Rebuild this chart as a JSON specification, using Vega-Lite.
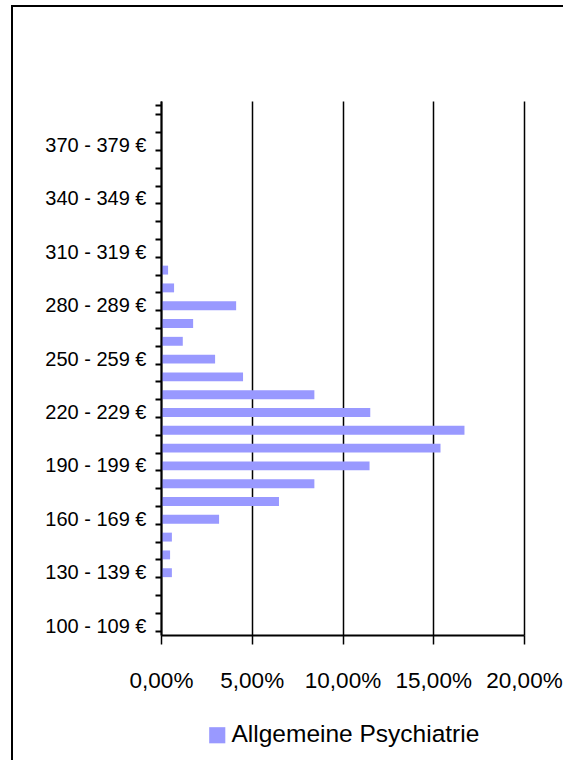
{
  "$schema": "https://vega.github.io/schema/vega-lite/v6.json",
  "width": 551,
  "height": 754,
  "autosize": {"type": "none"},
  "padding": {"left": 12, "top": 6, "right": 0, "bottom": 0},
  "background": "white",
  "config": {
    "view": {"stroke": "black", "strokeWidth": 2, "strokeDash": [551, 1305, 754]},
    "font": "Liberation Sans",
    "axis": {"labelFont": "Liberation Sans", "labelColor": "black"},
    "legend": {"labelFont": "Liberation Sans", "labelColor": "black"}
  },
  "data": {
    "values": [
      {"range": "100 - 109 €", "share": 0},
      {"range": "110 - 119 €", "share": 0},
      {"range": "120 - 129 €", "share": 0},
      {"range": "130 - 139 €", "share": 0.6},
      {"range": "140 - 149 €", "share": 0.5},
      {"range": "150 - 159 €", "share": 0.6},
      {"range": "160 - 169 €", "share": 3.2},
      {"range": "170 - 179 €", "share": 6.5},
      {"range": "180 - 189 €", "share": 8.45},
      {"range": "190 - 199 €", "share": 11.49},
      {"range": "200 - 209 €", "share": 15.4},
      {"range": "210 - 219 €", "share": 16.72},
      {"range": "220 - 229 €", "share": 11.53},
      {"range": "230 - 239 €", "share": 8.45},
      {"range": "240 - 249 €", "share": 4.52},
      {"range": "250 - 259 €", "share": 2.98},
      {"range": "260 - 269 €", "share": 1.2},
      {"range": "270 - 279 €", "share": 1.77},
      {"range": "280 - 289 €", "share": 4.14},
      {"range": "290 - 299 €", "share": 0.72},
      {"range": "300 - 309 €", "share": 0.39},
      {"range": "310 - 319 €", "share": 0},
      {"range": "320 - 329 €", "share": 0},
      {"range": "330 - 339 €", "share": 0},
      {"range": "340 - 349 €", "share": 0},
      {"range": "350 - 359 €", "share": 0},
      {"range": "360 - 369 €", "share": 0},
      {"range": "370 - 379 €", "share": 0},
      {"range": "380 - 389 €", "share": 0},
      {"range": "390 - 399 €", "share": 0}
    ]
  },
  "resolve": {"axis": {"x": "independent"}},
  "layer": [
    {
      "mark": {"type": "bar", "opacity": 0},
      "encoding": {
        "y": {
          "field": "range",
          "type": "ordinal",
          "sort": "descending",
          "scale": {"range": [95, 629], "paddingInner": 0.5, "paddingOuter": 0.25},
          "axis": {
            "title": null,
            "offset": -149,
            "tickBand": "extent",
            "tickSize": 6,
            "tickWidth": 2,
            "tickColor": "black",
            "domainColor": "black",
            "domainWidth": 2,
            "labelFontSize": 20,
            "labelPadding": 9,
            "labelExpr": "indexof(['100 - 109 €', '130 - 139 €', '160 - 169 €', '190 - 199 €', '220 - 229 €', '250 - 259 €', '280 - 289 €', '310 - 319 €', '340 - 349 €', '370 - 379 €'], datum.value) >= 0 ? datum.value : ''",
            "grid": false,
            "zindex": 1
          }
        },
        "x": {
          "field": "share",
          "type": "quantitative",
          "scale": {"domain": [0, 20], "range": [149, 512], "nice": false},
          "axis": {
            "orient": "top",
            "title": null,
            "offset": -95,
            "values": [0, 5, 10, 15, 20],
            "grid": true,
            "gridColor": "black",
            "gridWidth": 1.5,
            "gridOpacity": 1,
            "domain": false,
            "ticks": false,
            "labels": false
          }
        }
      }
    },
    {
      "mark": {"type": "bar"},
      "encoding": {
        "y": {
          "field": "range",
          "type": "ordinal",
          "sort": "descending",
          "axis": {
            "title": null,
            "offset": -149,
            "tickBand": "extent",
            "tickSize": 6,
            "tickWidth": 2,
            "tickColor": "black",
            "domainColor": "black",
            "domainWidth": 2,
            "labelFontSize": 20,
            "labelPadding": 9,
            "labelExpr": "indexof(['100 - 109 €', '130 - 139 €', '160 - 169 €', '190 - 199 €', '220 - 229 €', '250 - 259 €', '280 - 289 €', '310 - 319 €', '340 - 349 €', '370 - 379 €'], datum.value) >= 0 ? datum.value : ''",
            "grid": false,
            "zindex": 1
          }
        },
        "x": {
          "field": "share",
          "type": "quantitative",
          "axis": {
            "orient": "bottom",
            "title": null,
            "offset": -125,
            "values": [0, 5, 10, 15, 20],
            "tickSize": 9,
            "tickWidth": 1.5,
            "tickColor": "black",
            "domainColor": "black",
            "domainWidth": 2,
            "grid": false,
            "labelFontSize": 22.5,
            "labelPadding": 25,
            "labelOverlap": false,
            "labelFlush": false,
            "labelExpr": "replace(format(datum.value, '.2f'), '.', ',') + '%'",
            "zindex": 1
          }
        },
        "color": {
          "datum": "Allgemeine Psychiatrie",
          "type": "nominal",
          "scale": {"range": ["#9999FF"]},
          "legend": {
            "title": null,
            "orient": "none",
            "legendX": 193,
            "legendY": 717,
            "symbolType": "square",
            "symbolSize": 260,
            "symbolStrokeWidth": 0,
            "symbolOpacity": 1,
            "labelFontSize": 24.5,
            "labelOffset": 2,
            "labelLimit": 400
          }
        }
      }
    }
  ]
}
